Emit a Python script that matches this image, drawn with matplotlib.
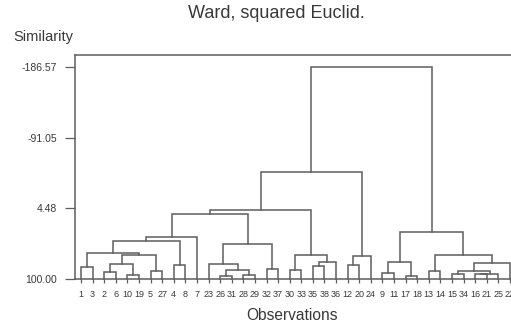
import matplotlib
matplotlib.use("Agg")
import matplotlib.pyplot as plt

plt.rcParams['font.family'] = ['Liberation Sans', 'DejaVu Sans']

# Leaf order (observation labels) as shown along the x axis
leaf_labels = ["1", "3", "2", "6", "10", "19", "5", "27", "4", "8", "7", "23", "26",
               "31", "28", "29", "32", "37", "30", "33", "35", "38", "36", "12", "20",
               "24", "9", "11", "17", "18", "13", "14", "15", "34", "16", "21", "25", "22"]

# Merge steps: (left cluster, right cluster, similarity level); "M#" = earlier merge
merges = [
    ("1", "3", 83.4),      # M0
    ("2", "6", 90.2),      # M1
    ("10", "19", 94.6),    # M2
    ("M1", "M2", 79.8),    # M3
    ("5", "27", 88.8),     # M4
    ("M3", "M4", 67.6),    # M5
    ("M0", "M5", 64.0),    # M6
    ("4", "8", 81.1),      # M7
    ("M6", "M7", 48.3),    # M8
    ("M8", "7", 43.0),     # M9
    ("26", "31", 96.0),    # M10
    ("28", "29", 93.7),    # M11
    ("M10", "M11", 86.9),  # M12
    ("23", "M12", 78.8),   # M13
    ("32", "37", 86.5),    # M14
    ("M13", "M14", 51.9),  # M15
    ("M9", "M15", 11.4),   # M16
    ("30", "33", 86.9),    # M17
    ("35", "38", 82.1),    # M18
    ("M18", "36", 76.7),   # M19
    ("M17", "M19", 67.6),  # M20
    ("M16", "M20", 6.0),   # M21
    ("12", "20", 81.1),    # M22
    ("M22", "24", 69.0),   # M23
    ("M21", "M23", -44.7), # M24
    ("9", "11", 91.0),     # M25
    ("17", "18", 96.0),    # M26
    ("M25", "M26", 76.7),  # M27
    ("13", "14", 89.2),    # M28
    ("15", "34", 92.5),    # M29
    ("16", "21", 93.5),    # M30
    ("M30", "25", 92.5),   # M31
    ("M29", "M31", 88.8),  # M32
    ("M32", "22", 78.0),   # M33
    ("M28", "M33", 67.6),  # M34
    ("M27", "M34", 36.2),  # M35
    ("M24", "M35", -186.57),  # M36
]

ytick_values = [100.0, 4.48, -91.05, -186.57]
ytick_labels = ["100.00", "4.48", "-91.05", "-186.57"]

title = "Ward, squared Euclid."
ylabel = "Similarity"
xlabel = "Observations"

line_color = "#5e5e5e"
text_color = "#383838"

W, H = 511, 326
fig = plt.figure(figsize=(W / 100, H / 100), dpi=100)
# axes: left spine at x=75px, top at y=55px, baseline at y=279.3px, right beyond canvas
ax = fig.add_axes([75 / W, (H - 279.3) / H, 441 / W, (279.3 - 55) / H])

pos = {lab: (i, 100.0) for i, lab in enumerate(leaf_labels)}
for k, (a, b, h) in enumerate(merges):
    xa, ha = pos[a]
    xb, hb = pos[b]
    ax.plot([xa, xa, xb, xb], [ha, h, h, hb], color=line_color, lw=1.1,
            solid_joinstyle="miter", clip_on=False)
    pos["M%d" % k] = ((xa + xb) / 2.0, h)

ax.set_xlim(-0.52, len(leaf_labels) - 1 + 0.52)
ax.set_ylim(100.0, -202.5)

ax.set_xticks(range(len(leaf_labels)))
ax.set_xticklabels(leaf_labels, fontsize=6.5, color=text_color)
ax.set_yticks(ytick_values)
ax.set_yticklabels(ytick_labels, fontsize=7.5, color=text_color)

ax.tick_params(axis="x", direction="out", length=3, width=0.9, color=line_color, pad=5)
ax.tick_params(axis="y", direction="out", length=7, width=0.9, color=line_color, pad=6)

for s in ax.spines.values():
    s.set_color(line_color)
    s.set_linewidth(1.1)

fig.text(276 / W, 1 - 14 / H, title, ha="center", va="center", fontsize=13, color=text_color)
fig.text(13 / W, 1 - 37 / H, ylabel, ha="left", va="center", fontsize=10.5, color=text_color)
fig.text(292 / W, 1 - 315 / H, xlabel, ha="center", va="center", fontsize=11.2, color=text_color)

fig.savefig("out.png", dpi=100)
